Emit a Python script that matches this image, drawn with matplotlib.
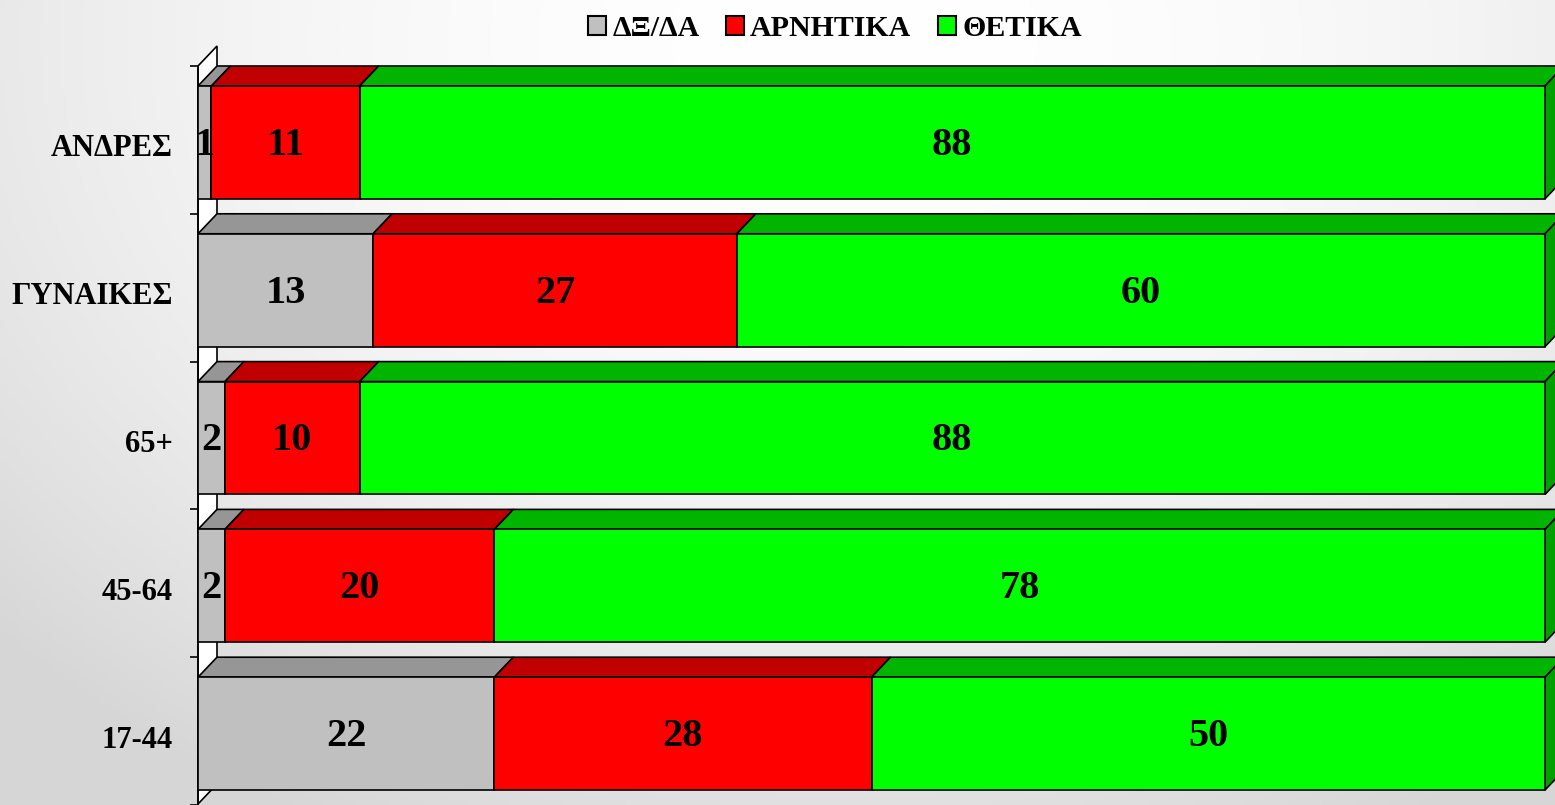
import numpy as np
import matplotlib
matplotlib.use("Agg")
import matplotlib.pyplot as plt
from matplotlib.patches import Polygon, Patch

plt.rcParams['font.family'] = ['Liberation Serif', 'DejaVu Serif']
plt.rcParams['font.weight'] = 'bold'

# data (top to bottom as shown)
categories = ['ΑΝΔΡΕΣ', 'ΓΥΝΑΙΚΕΣ', '65+', '45-64', '17-44']
dk_da = [1, 13, 2, 2, 22]
negative = [11, 27, 10, 20, 28]
positive = [88, 60, 88, 78, 50]
series_names = ['ΔΞ/ΔΑ', 'ΑΡΝΗΤΙΚΑ', 'ΘΕΤΙΚΑ']

front_colors = ['#C0C0C0', '#FF0000', '#00FF00']
top_colors = ['#969696', '#C00000', '#00B400']
side_color = '#00A000'

W, H = 1555, 805
fig = plt.figure(figsize=(W / 100, H / 100), dpi=100)

# background gradient
bg = fig.add_axes([0, 0, 1, 1], zorder=-5)
yy, xx = np.mgrid[0:1:200j, 0:1:400j]
r2 = ((xx - 0.55) / 0.75) ** 2 + ((yy - 0.05) / 1.1) ** 2
val = np.clip(1.0 - 0.16 * r2, 0.84, 1.0)
bg.imshow(np.dstack([val, val, val]), aspect='auto', extent=[0, 1, 1, 0])
bg.axis('off')

# main axes: x pixel 198 -> 0, 1545 -> 100 ; y pixel 66 top, 805 bottom
px_per_x = (1545 - 198) / 100.0
row_px = 148.0
ax = fig.add_axes([198 / W, 0, 1347 / W, (805 - 66) / H])
ax.set_facecolor('none')

n = len(categories)
ypos = np.arange(n)[::-1]  # top category has highest y
bar_h = 113 / row_px
dx = 19 / px_per_x
dy = 20 / row_px
txt_off = 3 / row_px  # numbers sit a touch below bar centre

ax.set_xlim(0, 100)
ax.set_ylim(-(805 - 734.5) / row_px, n - 1 + bar_h / 2 + dy)

# side wall
ytop = n - 1 + bar_h / 2 + dy
ybot = ax.get_ylim()[0]
wall = Polygon([(0, ybot), (0, ytop), (dx, ytop + dy), (dx, ybot + dy)],
               closed=True, facecolor='white', edgecolor='black', lw=1.2,
               clip_on=False, zorder=1)
ax.add_patch(wall)

series = [dk_da, negative, positive]
lefts = np.zeros(n)
for s, vals in enumerate(series):
    vals = np.array(vals, dtype=float)
    ax.barh(ypos, vals, left=lefts, height=bar_h, color=front_colors[s],
            edgecolor='black', lw=1.2, zorder=3, clip_on=False)
    for y, l, v in zip(ypos, lefts, vals):
        yt = y + bar_h / 2
        top = Polygon([(l, yt), (l + v, yt), (l + v + dx, yt + dy), (l + dx, yt + dy)],
                      closed=True, facecolor=top_colors[s], edgecolor='black',
                      lw=1.2, zorder=2, clip_on=False)
        ax.add_patch(top)
        ax.text(l + v / 2, y - txt_off, f"{int(v)}", ha='center', va='center',
                fontsize=29, fontweight='bold', zorder=5)
    lefts = lefts + vals

# right side faces of the last segment
for y, tot in zip(ypos, lefts):
    yt = y + bar_h / 2
    yb = y - bar_h / 2
    side = Polygon([(tot, yb), (tot, yt), (tot + dx, yt + dy), (tot + dx, yb + dy)],
                   closed=True, facecolor=side_color, edgecolor='black',
                   lw=1.2, zorder=2, clip_on=False)
    ax.add_patch(side)

for sp in ['top', 'right', 'bottom']:
    ax.spines[sp].set_visible(False)
ax.spines['left'].set_linewidth(1.2)
ax.set_xticks([])
ax.set_yticks(ypos - txt_off)
ax.set_yticklabels(categories, fontsize=22, fontweight='bold')
ax.tick_params(axis='y', which='major', length=0, pad=18)
ax.set_yticks(np.arange(-1, n) + bar_h / 2 + dy, minor=True)
ax.tick_params(axis='y', which='minor', length=6, width=1.2, direction='out')

handles = [Patch(facecolor=c, edgecolor='black', lw=1.5) for c in front_colors]
fig.legend(handles, series_names, loc='upper center', bbox_to_anchor=(0.537, 1.015),
           ncol=3, frameon=False, prop={'size': 21.5, 'weight': 'bold'},
           handlelength=0.6, handleheight=0.6, handletextpad=0.2, columnspacing=0.9)

fig.savefig('out.png', dpi=100)
